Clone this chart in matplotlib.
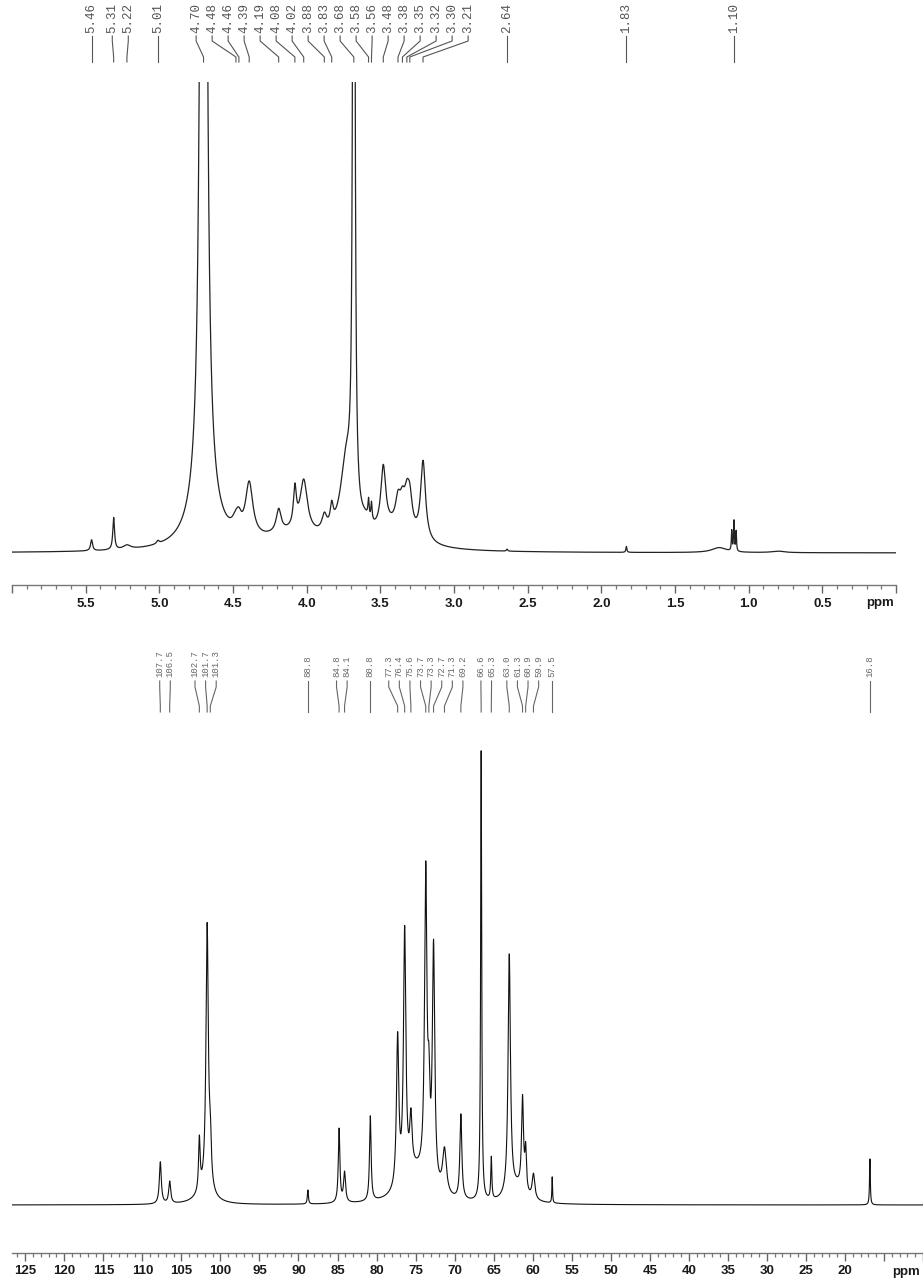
import numpy as np
import matplotlib
matplotlib.use("Agg")
import matplotlib.pyplot as plt
from matplotlib.lines import Line2D
from matplotlib.ticker import FixedLocator, MultipleLocator, FixedFormatter
from matplotlib import font_manager

# ---------------- data: 1H spectrum ----------------
h_label_ppm = [5.46, 5.31, 5.22, 5.01, 4.70, 4.48, 4.46, 4.39, 4.19, 4.08, 4.02,
               3.88, 3.83, 3.68, 3.58, 3.56, 3.48, 3.38, 3.35, 3.32, 3.30, 3.21,
               2.64, 1.83, 1.10]
h_peak_ppm = [5.46, 5.31, 5.22, 5.01, 4.70, 4.70, 4.48, 4.46, 4.39, 4.19, 4.08, 4.02,
              4.10, 3.88, 3.83, 3.73, 3.68, 3.58, 3.56, 3.60, 3.48, 3.38, 3.35, 3.32, 3.30,
              3.21, 3.40, 2.64, 1.83, 1.20, 1.115, 1.100, 1.085, 0.80]
h_peak_height = [11, 32, 4, 3, 3000, 45, 12, 10, 54, 23, 38, 52,
                 15, 16, 20, 78, 1500, 18, 18, 10, 62, 24, 22, 27, 30,
                 79, 20, 2, 6, 5, 20, 30, 20, 1.5]
h_peak_hwhm = [0.008, 0.007, 0.03, 0.01, 0.012, 0.09, 0.03, 0.02, 0.03, 0.02, 0.012, 0.03,
               0.25, 0.02, 0.012, 0.05, 0.006, 0.005, 0.005, 0.04, 0.02, 0.02, 0.02, 0.02, 0.02,
               0.02, 0.15, 0.005, 0.004, 0.06, 0.003, 0.003, 0.003, 0.05]
h_tick_values = [6.0, 5.5, 5.0, 4.5, 4.0, 3.5, 3.0, 2.5, 2.0, 1.5, 1.0, 0.5, 0.0]
h_tick_labels = ["", "5.5", "5.0", "4.5", "4.0", "3.5", "3.0", "2.5", "2.0", "1.5", "1.0", "0.5", ""]

# ---------------- data: 13C spectrum ----------------
c_label_ppm = [107.7, 106.5, 102.7, 101.7, 101.3, 88.8, 84.8, 84.1, 80.8, 77.3, 76.4,
               75.6, 73.7, 73.3, 72.7, 71.3, 69.2, 66.6, 65.3, 63.0, 61.3, 60.9, 59.9,
               57.5, 16.8]
c_peak_ppm = [107.7, 106.5, 102.7, 101.7, 101.3, 102.0, 88.8, 84.8, 84.1, 80.8, 77.3, 76.4,
              75.6, 73.7, 73.3, 72.7, 71.3, 75.0, 69.2, 66.6, 65.3, 63.0, 61.3, 60.9, 59.9,
              62.0, 57.5, 16.8]
c_peak_height = [42, 22, 52, 265, 42, 12, 14, 74, 30, 85, 150, 250,
                 52, 305, 72, 237, 45, 30, 85, 450, 42, 240, 92, 40, 25,
                 15, 26, 46]
c_peak_hwhm = [0.15, 0.15, 0.12, 0.18, 0.15, 1.2, 0.08, 0.12, 0.15, 0.12, 0.18, 0.18,
               0.18, 0.18, 0.15, 0.18, 0.3, 1.8, 0.15, 0.08, 0.08, 0.18, 0.15, 0.12, 0.2,
               1.2, 0.05, 0.06]
c_tick_values = [125, 120, 115, 110, 105, 100, 95, 90, 85, 80, 75, 70, 65, 60, 55,
                 50, 45, 40, 35, 30, 25, 20, 15, 10]
c_tick_labels = ["125", "120", "115", "110", "105", "100", "95", "90", "85", "80", "75",
                 "70", "65", "60", "55", "50", "45", "40", "35", "30", "25", "20", "", ""]

# ---------------- figure ----------------
W, H = 923, 1282
DPI = 100
fig = plt.figure(figsize=(W / DPI, H / DPI), dpi=DPI)

_names = {f.name for f in font_manager.fontManager.ttflist}
AXFONT = ["Liberation Sans Narrow", "Liberation Sans", "DejaVu Sans"] \
    if "Liberation Sans Narrow" in _names else ["Liberation Sans", "DejaVu Sans"]
AXSIZE = 11 if "Liberation Sans Narrow" in _names else 9.5


def fx(px):
    return px / W


def fy(py):
    return 1 - py / H


def spectrum(x, ppm, height, hwhm):
    y = np.zeros_like(x)
    for p, h, g in zip(ppm, height, hwhm):
        y += h * g * g / ((x - p) ** 2 + g * g)
    return y


def setup_axis(ax, ticks, labels, minor, xlim, ylim):
    ax.set_xlim(*xlim)
    ax.set_ylim(*ylim)
    for s in ("top", "left", "right"):
        ax.spines[s].set_visible(False)
    ax.spines["bottom"].set_color("#777777")
    ax.spines["bottom"].set_linewidth(1.0)
    ax.set_yticks([])
    ax.xaxis.set_major_locator(FixedLocator(ticks))
    ax.xaxis.set_major_formatter(FixedFormatter(labels))
    ax.xaxis.set_minor_locator(MultipleLocator(minor))
    ax.tick_params(axis="x", which="major", length=6, width=1.0, color="#666666",
                   direction="out", pad=3, labelsize=AXSIZE, labelcolor="#1a1a1a")
    ax.tick_params(axis="x", which="minor", length=3, width=0.9, color="#777777",
                   direction="out")
    for t in ax.get_xticklabels():
        t.set_fontfamily(AXFONT)
        t.set_fontweight("bold")
    ax.patch.set_alpha(0)


def spread(ideal, d):
    clusters = [[i] for i in range(len(ideal))]

    def positions(c):
        cen = np.mean([ideal[i] for i in c])
        n = len(c)
        return [cen + (k - (n - 1) / 2) * d for k in range(n)]
    changed = True
    while changed:
        changed = False
        out = [clusters[0]]
        for c in clusters[1:]:
            prev = out[-1]
            if positions(prev)[-1] + d > positions(c)[0] + 1e-9:
                out[-1] = prev + c
                changed = True
            else:
                out.append(c)
        clusters = out
    res = []
    for c in clusters:
        res.extend(positions(c))
    return res


def draw_labels(ax, values, d, text_bottom, y0, y1, y2, y3, size, color, fmt):
    px = [ax.transData.transform((v, 0))[0] for v in values]
    order = np.argsort(px)
    ideal = [px[i] for i in order]
    placed = spread(ideal, d)
    for xi, xl, i in zip(ideal, placed, order):
        fig.add_artist(Line2D([fx(xl), fx(xl), fx(xi), fx(xi)],
                              [fy(y0), fy(y1), fy(y2), fy(y3)],
                              transform=fig.transFigure, color=color, lw=0.8))
        fig.text(fx(xl), fy(text_bottom), fmt.format(values[i]),
                 rotation=90, ha="center", va="bottom", fontsize=size, color=color,
                 family=["Liberation Mono", "DejaVu Sans Mono"])


# ---- top: 1H ----
ax1 = fig.add_axes([fx(12), fy(585), fx(896) - fx(12), fy(82) - fy(585)])
x1 = np.linspace(6.0, 0.0, 40000)
y1 = spectrum(x1, h_peak_ppm, h_peak_height, h_peak_hwhm)
ax1.plot(x1, y1, color="#222222", lw=0.9)
setup_axis(ax1, h_tick_values, h_tick_labels, 0.1, (6.0, 0.0), (-32, 471))
fig.text(fx(880), fy(603), "ppm", ha="center", va="center", fontsize=AXSIZE,
         fontweight="bold", color="#1a1a1a", family=AXFONT)
draw_labels(ax1, h_label_ppm, 16.0, 33, 36, 41, 57, 62, 9, "#555555", "{:.2f}")

# ---- bottom: 13C ----
ax2 = fig.add_axes([fx(12), fy(1253), fx(923) - fx(12), fy(735) - fy(1253)])
x2 = np.linspace(126.7, 10.0, 60000)
y2 = spectrum(x2, c_peak_ppm, c_peak_height, c_peak_hwhm)
ax2.plot(x2, y2, color="#111111", lw=0.8)
setup_axis(ax2, c_tick_values, c_tick_labels, 1, (126.7, 10.0), (-48, 470))
fig.text(fx(906), fy(1272), "ppm", ha="center", va="center", fontsize=AXSIZE,
         fontweight="bold", color="#1a1a1a", family=AXFONT)
draw_labels(ax2, c_label_ppm, 10.6, 677, 681, 687, 706, 712, 6.5, "#666666", "{:.1f}")

fig.savefig("out.png", dpi=DPI)
